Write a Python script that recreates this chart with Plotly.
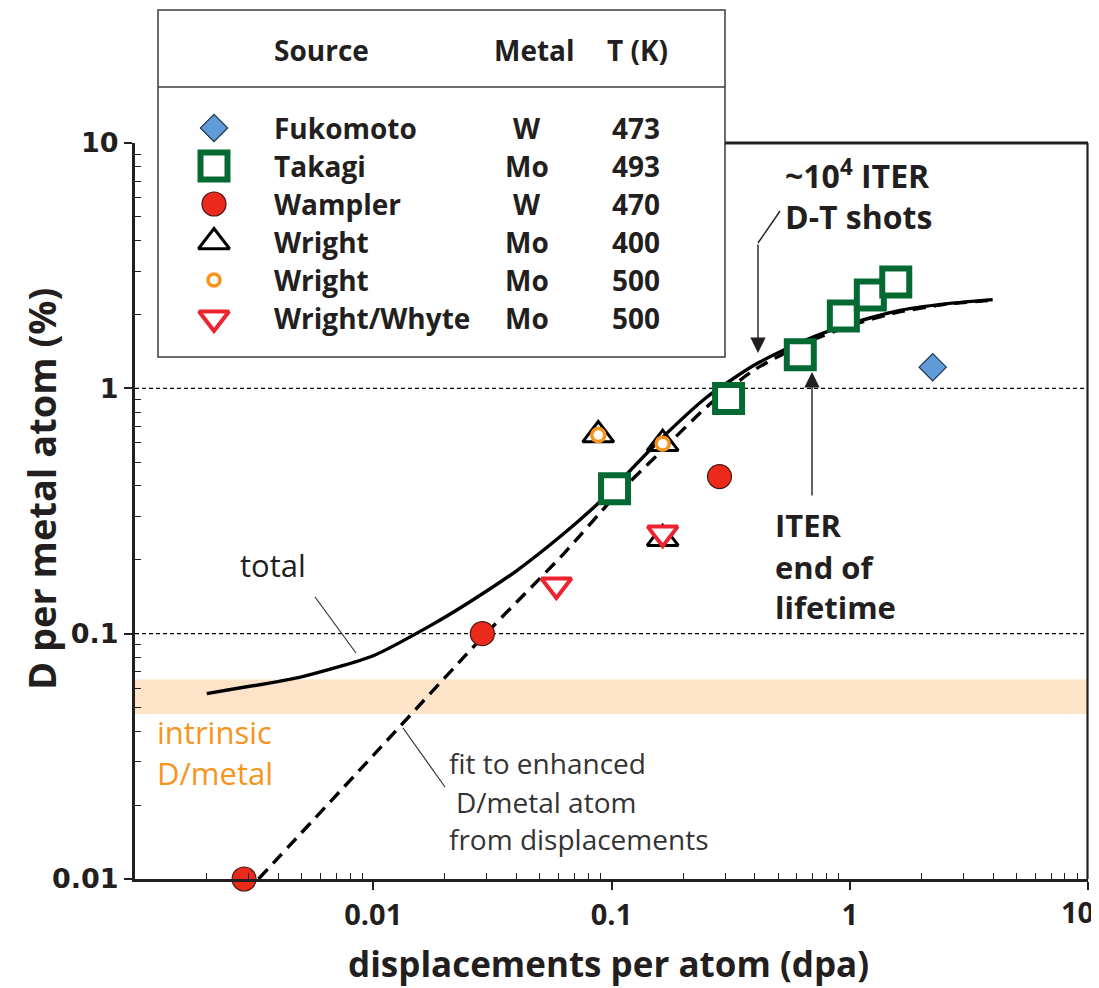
import plotly.graph_objects as go

# ---------------- data ----------------
takagi_x = [0.103, 0.31, 0.62, 0.94, 1.22, 1.56]
takagi_y = [0.39, 0.91, 1.37, 1.97, 2.40, 2.71]

fukomoto_x = [2.23]
fukomoto_y = [1.22]

wampler_x = [0.00287, 0.0287, 0.284]
wampler_y = [0.0100, 0.100, 0.437]

wright400_x = [0.088, 0.164, 0.164]
wright400_y = [0.645, 0.595, 0.244]

wright500_x = [0.088, 0.164]
wright500_y = [0.645, 0.595]

whyte_x = [0.0587, 0.164]
whyte_y = [0.158, 0.257]

total_x = [0.002, 0.005, 0.01, 0.0173, 0.0251, 0.0398, 0.0631, 0.0871, 0.1,
           0.158, 0.251, 0.398, 0.631, 1.0, 1.585, 2.51, 3.98]
total_y = [0.057, 0.0667, 0.0813, 0.1076, 0.1337, 0.180, 0.256, 0.337, 0.385,
           0.61, 0.92, 1.245, 1.55, 1.83, 2.07, 2.21, 2.30]

fit_x = [0.0033, 0.01, 0.0287, 0.0631, 0.1, 0.158, 0.251, 0.398, 0.631, 1.0, 1.585, 2.51, 3.98]
fit_y = [0.010, 0.0319, 0.0966, 0.212, 0.35, 0.542, 0.84, 1.19, 1.51, 1.80, 2.04, 2.20, 2.29]

intrinsic_lo, intrinsic_hi = 0.047, 0.065
ref_levels = [1.0, 0.1]
x_limits = [0.001, 10]

x_tickvals = [0.01, 0.1, 1, 10]
x_ticktext = ["0.01", "0.1", "1", "10"]
y_tickvals = [0.01, 0.1, 1, 10]
y_ticktext = ["0.01", "0.1", "1", "10"]

legend_sources = ["Fukomoto", "Takagi", "Wampler", "Wright", "Wright", "Wright/Whyte"]
legend_metals = ["W", "Mo", "W", "Mo", "Mo", "Mo"]
legend_temps = ["473", "493", "470", "400", "500", "500"]

# ---------------- layout helpers ----------------
# The page body adds an 8px offset, so the figure is 8px smaller and all
# reference pixel positions are mapped through PX/PY.
OFF = 8
W, H = 1099 - OFF, 988 - OFF
ML, MR, MT, MB = 135 - OFF, 11, 10 - OFF, 109
PW, PH = W - ML - MR, H - MT - MB   # 953 x 869


def PX(x):
    return (x - 135) / PW


def PY(y):
    return (879 - y) / PH


INK = "#231f20"
FONT = "Open Sans"

BLUE = "#5f9bd6"
GREEN = "#046a32"
RED = "#ec2a1c"
ORANGE = "#f7941d"
RED2 = "#ec2330"

sym = {
    "Fukomoto": dict(symbol="diamond", size=21, color=BLUE, line=dict(color="#1c3553", width=1.2)),
    "Takagi": dict(symbol="square", size=27, color="white", line=dict(color=GREEN, width=6)),
    "Wampler": dict(symbol="circle", size=24, color=RED, line=dict(color="#4a1a12", width=1.2)),
    "Wright400": dict(symbol="triangle-up", size=27, color="rgba(0,0,0,0)", line=dict(color="black", width=3)),
    "Wright500": dict(symbol="circle", size=13, color="white", line=dict(color=ORANGE, width=3.5)),
    "Whyte": dict(symbol="triangle-down", size=26, color="white", line=dict(color=RED2, width=4)),
}

fig = go.Figure()

# intrinsic band
fig.add_trace(go.Scatter(
    x=[x_limits[0], x_limits[1], x_limits[1], x_limits[0]],
    y=[intrinsic_lo, intrinsic_lo, intrinsic_hi, intrinsic_hi],
    fill="toself", fillcolor="#fde3c8", mode="lines", line=dict(width=0),
    hoverinfo="skip", showlegend=False))

# reference dotted levels
for lv in ref_levels:
    fig.add_trace(go.Scatter(x=x_limits, y=[lv, lv], mode="lines",
                             line=dict(color="black", width=1.2, dash="4px,3px"),
                             hoverinfo="skip", showlegend=False))

# fit and total curves
fig.add_trace(go.Scatter(x=fit_x, y=fit_y, mode="lines",
                         line=dict(color="black", width=3.4, dash="13px,8px", shape="spline", smoothing=0.6),
                         showlegend=False))
fig.add_trace(go.Scatter(x=total_x, y=total_y, mode="lines",
                         line=dict(color="black", width=3.4, shape="spline", smoothing=0.6),
                         showlegend=False))

# data markers
series = [
    (wright400_x, wright400_y, "Wright400"),
    (wright500_x, wright500_y, "Wright500"),
    (whyte_x, whyte_y, "Whyte"),
    (wampler_x, wampler_y, "Wampler"),
    (takagi_x, takagi_y, "Takagi"),
    (fukomoto_x, fukomoto_y, "Fukomoto"),
]
for xs, ys, key in series:
    fig.add_trace(go.Scatter(x=xs, y=ys, mode="markers", marker=sym[key],
                             cliponaxis=False, showlegend=False))

# ---------------- custom legend (pixel-coordinate subplot) ----------------
LEG_X0, LEG_X1, LEG_Y0, LEG_Y1 = 158, 725, 10, 357
row_y0, row_gap = 128, 38
sym_x = 214
legend_keys = ["Fukomoto", "Takagi", "Wampler", "Wright400", "Wright500", "Whyte"]
for i, key in enumerate(legend_keys):
    m = dict(sym[key])
    if key == "Wright500":
        m = dict(m, size=12)
    fig.add_trace(go.Scatter(x=[sym_x], y=[row_y0 + i * row_gap], mode="markers",
                             marker=m, xaxis="x2", yaxis="y2", cliponaxis=False,
                             showlegend=False, hoverinfo="skip"))

annotations = []


def txt(x, y, s, size, bold=True, color=INK, xanchor="left", family=FONT, ref="paper"):
    if ref == "paper":
        xx, yy, xr, yr = PX(x), PY(y), "paper", "paper"
    else:
        xx, yy, xr, yr = x, y, "x2", "y2"
    annotations.append(dict(
        x=xx, y=yy, xref=xr, yref=yr, text=s, showarrow=False,
        xanchor=xanchor, yanchor="middle",
        font=dict(family=family, size=size, color=color, weight=700 if bold else 400)))


LEG_FS = 28
txt(272, 50, "Source", LEG_FS, ref="leg")
txt(492, 50, "Metal", LEG_FS, ref="leg")
txt(605, 50, "T (K)", LEG_FS, ref="leg")
for i in range(len(legend_sources)):
    yy = row_y0 + i * row_gap
    txt(272, yy, legend_sources[i], LEG_FS, ref="leg")
    txt(527, yy, legend_metals[i], LEG_FS, ref="leg", xanchor="center")
    txt(636, yy, legend_temps[i], LEG_FS, ref="leg", xanchor="center")

# in-plot labels
txt(783, 174, "~10<sup>4</sup> ITER", 32)
txt(783, 217, "D-T shots", 32)
txt(773, 525, "ITER", 31)
txt(773, 567, "end of", 31)
txt(773, 607, "lifetime", 31)
txt(238, 565, "total", 31, bold=False)
txt(155, 732, "intrinsic", 31, bold=False, color=ORANGE)
txt(155, 773, "D/metal", 31, bold=False, color=ORANGE)
txt(447, 763, "fit to enhanced", 28, bold=False, color="#333333")
txt(454, 802, "D/metal atom", 28, bold=False, color="#333333")
txt(447, 839, "from displacements", 28, bold=False, color="#333333")

# last x tick label, nudged inside the frame as in the reference
txt(1077, 911, x_ticktext[-1], 29, xanchor="center")

# axis titles
txt(608, 963, "displacements per atom (dpa)", 35, xanchor="center")
annotations.append(dict(x=PX(41), y=PY(489), xref="paper", yref="paper",
                        text="D per metal atom (%)", showarrow=False, textangle=-90,
                        xanchor="center", yanchor="middle",
                        font=dict(family=FONT, size=38, color=INK, weight=700)))

# arrows
annotations.append(dict(x=PX(758), y=PY(353), xref="paper", yref="paper", text="",
                        showarrow=True, ax=0, ay=243 - 353, arrowhead=2, arrowsize=2.2,
                        arrowwidth=1.4, arrowcolor=INK))
annotations.append(dict(x=PX(812), y=PY(372), xref="paper", yref="paper", text="",
                        showarrow=True, ax=0, ay=497 - 372, arrowhead=2, arrowsize=2.2,
                        arrowwidth=1.4, arrowcolor=INK))

shapes = []


def seg(x0, y0, x1, y1, width=1.2, color="#333333"):
    shapes.append(dict(type="line", xref="paper", yref="paper",
                       x0=PX(x0), y0=PY(y0), x1=PX(x1), y1=PY(y1),
                       line=dict(color=color, width=width), layer="above"))


# legend box and header separator
shapes.append(dict(type="rect", xref="paper", yref="paper",
                   x0=PX(LEG_X0), x1=PX(LEG_X1), y0=PY(LEG_Y1), y1=PY(LEG_Y0),
                   line=dict(color="#3b3b3b", width=1.5), layer="above"))
seg(LEG_X0, 87, LEG_X1, 87, width=1.5, color="#3b3b3b")
# plot frame top (right of legend box) and right side
seg(LEG_X1, 143, 1088, 143, width=3.2, color=INK)
seg(1087.5, 143, 1087.5, 879, width=2.2, color=INK)
# leader lines
seg(315, 597, 356, 653)
seg(403, 728, 445, 787)
# bent part of the upper arrow
seg(780, 211, 758, 243, width=1.4, color=INK)

minor_vals = [m * 10 ** e for e in range(-3, 1) for m in range(2, 10)]
minor_y = [m * 10 ** e for e in range(-2, 1) for m in range(2, 10)]

fig.update_layout(
    width=W, height=H,
    margin=dict(l=ML, r=MR, t=MT, b=MB, autoexpand=False),
    paper_bgcolor="white", plot_bgcolor="white",
    showlegend=False,
    font=dict(family=FONT, color=INK),
    xaxis=dict(type="log", range=[-3, 1], domain=[0, 1],
               showgrid=False, zeroline=False, showline=True, linewidth=3, linecolor=INK,
               ticks="outside", ticklen=8, tickwidth=2, tickcolor=INK,
               tickvals=x_tickvals, ticktext=x_ticktext[:-1] + [""],
               tickfont=dict(family=FONT, size=29, color=INK, weight=700),
               minor=dict(ticks="inside", ticklen=6, tickwidth=1.4, tickcolor=INK,
                          tickmode="array", tickvals=minor_vals, showgrid=False)),
    yaxis=dict(type="log", range=[-2, 1], domain=[0, PY(143)],
               showgrid=False, zeroline=False, showline=True, linewidth=3, linecolor=INK,
               ticks="outside", ticklen=8, tickwidth=2, tickcolor=INK,
               tickvals=y_tickvals, ticktext=y_ticktext,
               tickfont=dict(family="DejaVu Sans", size=27, color=INK, weight=700),
               minor=dict(ticks="inside", ticklen=6, tickwidth=1.4, tickcolor=INK,
                          tickmode="array", tickvals=minor_y, showgrid=False)),
    xaxis2=dict(domain=[PX(LEG_X0), PX(LEG_X1)], range=[LEG_X0, LEG_X1], visible=False,
                anchor="y2", fixedrange=True),
    yaxis2=dict(domain=[PY(LEG_Y1), PY(LEG_Y0)], range=[LEG_Y1, LEG_Y0], visible=False,
                anchor="x2", fixedrange=True),
    annotations=annotations,
    shapes=shapes,
)

fig.write_html("out.html")
